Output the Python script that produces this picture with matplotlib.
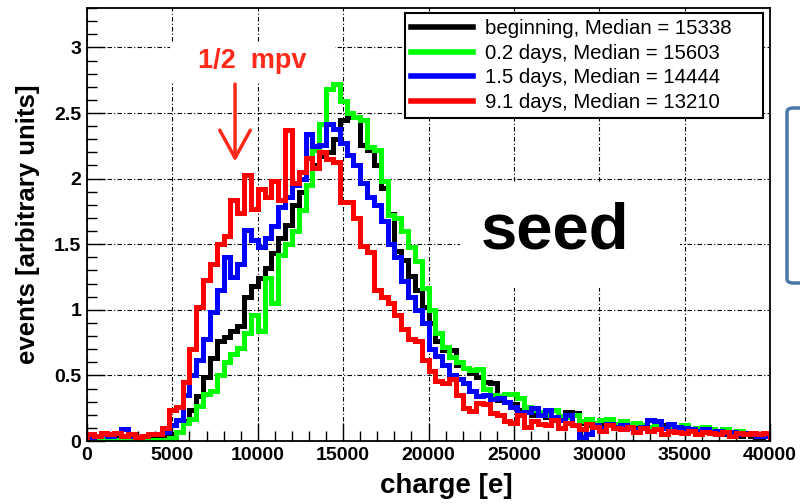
"""Seed-pixel charge spectra after different irradiation times."""

import matplotlib.pyplot as plt
import numpy as np
from matplotlib.lines import Line2D
from matplotlib.patches import FancyBboxPatch, Rectangle
from matplotlib.ticker import FuncFormatter, MultipleLocator

plt.rcParams["font.family"] = "Liberation Sans"
plt.rcParams["font.weight"] = "bold"
plt.rcParams["axes.labelweight"] = "bold"

# 100 bins of 400 e from 0 to 40000 e
edges = np.arange(0, 40001, 400)

beginning = [
    0.03, 0.04, 0.03, 0.05, 0.04, 0.03, 0.04, 0.03, 0.03, 0.04,
    0.04, 0.03, 0.05, 0.07, 0.15, 0.24, 0.34, 0.49, 0.63, 0.76,
    0.79, 0.84, 0.88, 1.10, 1.18, 1.24, 1.32, 1.43, 1.55, 1.65,
    1.80, 1.90, 1.95, 2.10, 2.17, 2.20, 2.30, 2.45, 2.47, 2.47,
    2.26, 2.22, 2.10, 1.93, 1.73, 1.45, 1.38, 1.26, 1.15, 1.02,
    0.90, 0.76, 0.69, 0.69, 0.58, 0.56, 0.52, 0.49, 0.45, 0.44,
    0.31, 0.30, 0.28, 0.24, 0.22, 0.20, 0.20, 0.18, 0.16, 0.17,
    0.22, 0.21, 0.14, 0.12, 0.13, 0.14, 0.16, 0.12, 0.11, 0.12,
    0.10, 0.11, 0.09, 0.10, 0.12, 0.10, 0.08, 0.09, 0.08, 0.07,
    0.08, 0.06, 0.07, 0.05, 0.06, 0.04, 0.05, 0.04, 0.03, 0.04,
]
days_0p2 = [
    0.02, 0.01, 0.02, 0.02, 0.01, 0.02, 0.01, 0.02, 0.01, 0.01,
    0.01, 0.01, 0.02, 0.07, 0.14, 0.17, 0.27, 0.36, 0.38, 0.50,
    0.60, 0.66, 0.71, 0.82, 0.96, 0.84, 1.24, 1.05, 1.42, 1.50,
    1.60, 1.76, 1.95, 2.22, 2.42, 2.68, 2.72, 2.59, 2.50, 2.47,
    2.45, 2.24, 2.22, 1.98, 1.72, 1.70, 1.60, 1.48, 1.37, 1.17,
    1.00, 0.82, 0.72, 0.64, 0.60, 0.56, 0.54, 0.55, 0.40, 0.35,
    0.34, 0.36, 0.36, 0.33, 0.26, 0.24, 0.22, 0.20, 0.24, 0.19,
    0.18, 0.20, 0.15, 0.17, 0.14, 0.16, 0.17, 0.13, 0.15, 0.12,
    0.14, 0.12, 0.11, 0.13, 0.10, 0.11, 0.10, 0.12, 0.09, 0.10,
    0.11, 0.09, 0.08, 0.09, 0.07, 0.08, 0.06, 0.06, 0.05, 0.05,
]
days_1p5 = [
    0.03, 0.04, 0.05, 0.04, 0.06, 0.09, 0.04, 0.03, 0.04, 0.05,
    0.05, 0.07, 0.12, 0.16, 0.35, 0.50, 0.62, 0.78, 0.98, 1.15,
    1.40, 1.25, 1.35, 1.61, 1.53, 1.48, 1.55, 1.64, 1.78, 1.86,
    1.95, 2.00, 2.34, 2.25, 2.26, 2.42, 2.38, 2.27, 2.18, 2.10,
    1.97, 1.86, 1.80, 1.68, 1.50, 1.40, 1.22, 1.10, 1.00, 0.90,
    0.70, 0.65, 0.58, 0.50, 0.47, 0.44, 0.38, 0.34, 0.35, 0.32,
    0.33, 0.30, 0.26, 0.21, 0.22, 0.25, 0.20, 0.24, 0.18, 0.16,
    0.20, 0.12, 0.03, 0.05, 0.12, 0.10, 0.13, 0.11, 0.12, 0.10,
    0.09, 0.11, 0.16, 0.15, 0.10, 0.13, 0.11, 0.10, 0.09, 0.08,
    0.09, 0.07, 0.08, 0.06, 0.07, 0.05, 0.06, 0.05, 0.04, 0.04,
]
days_9p1 = [
    0.05, 0.04, 0.06, 0.05, 0.06, 0.04, 0.05, 0.03, 0.04, 0.05,
    0.05, 0.10, 0.24, 0.26, 0.45, 0.70, 1.02, 1.23, 1.35, 1.50,
    1.56, 1.84, 1.74, 2.03, 1.77, 1.92, 1.86, 1.98, 1.84, 2.37,
    1.97, 2.05, 2.16, 2.08, 2.20, 2.15, 2.13, 1.82, 1.82, 1.70,
    1.49, 1.44, 1.15, 1.10, 1.05, 0.96, 0.85, 0.78, 0.76, 0.62,
    0.53, 0.46, 0.44, 0.47, 0.35, 0.25, 0.23, 0.29, 0.28, 0.21,
    0.20, 0.15, 0.14, 0.20, 0.11, 0.15, 0.13, 0.12, 0.16, 0.10,
    0.14, 0.12, 0.09, 0.13, 0.11, 0.08, 0.12, 0.10, 0.09, 0.11,
    0.07, 0.10, 0.08, 0.09, 0.05, 0.08, 0.07, 0.06, 0.08, 0.05,
    0.07, 0.06, 0.05, 0.07, 0.04, 0.06, 0.05, 0.06, 0.05, 0.06,
]

series = [beginning, days_0p2, days_1p5, days_9p1]
colors = ["black", "#00ff00", "#0000ff", "#ff0000"]
labels = [
    "beginning, Median = 15338",
    "0.2 days, Median = 15603",
    "1.5 days, Median = 14444",
    "9.1 days, Median = 13210",
]

mpv_half = 8670  # charge marked by the arrow [e]
red_note = "#ff2a1a"

fig = plt.figure(figsize=(8, 5.04), dpi=100)
ax = fig.add_axes([0.10875, 0.125, 0.85375, 0.859])

for vals, c in zip(series, colors):
    ax.stairs(vals, edges, color=c, linewidth=3.6, baseline=0, zorder=2)

ax.set_xlim(0, 40000)
ax.set_ylim(0, 3.3)
ax.xaxis.set_major_locator(MultipleLocator(5000))
ax.xaxis.set_minor_locator(MultipleLocator(1000))
ax.yaxis.set_major_locator(MultipleLocator(0.5))
ax.yaxis.set_minor_locator(MultipleLocator(0.1))
ax.yaxis.set_major_formatter(FuncFormatter(lambda v, p: f"{v:g}"))
ax.tick_params(which="major", direction="in", length=13, width=1, labelsize=14, pad=4)
ax.tick_params(which="minor", direction="in", length=7, width=1)
for lbl in ax.get_xticklabels() + ax.get_yticklabels():
    lbl.set_fontweight("bold")
for s in ax.spines.values():
    s.set_linewidth(1.3)

ax.set_axisbelow(True)
ax.grid(which="major", color="black", linestyle=(0, (4, 2, 1, 2)), linewidth=0.8)

ax.set_xlabel("charge [e]", fontsize=20, fontweight="bold")
ax.set_ylabel("events [arbitrary units]", fontsize=18.5, fontweight="bold")
ax.xaxis.set_label_coords(0.526, -0.074)
ax.yaxis.set_label_coords(-0.069, 0.5)

handles = [Line2D([], [], color=c, linewidth=4) for c in colors]
leg = ax.legend(
    handles, labels, loc="upper left", bbox_to_anchor=(0.466, 0.737, 0.524, 0.251),
    mode="expand", prop=dict(size=14.7, weight="normal"), fancybox=False,
    edgecolor="black", framealpha=1, handlelength=3.0, handletextpad=0.6,
    labelspacing=0.27, borderpad=0.3, borderaxespad=0,
)
leg.get_frame().set_linewidth(1.5)

# big "seed" label on a white patch
ax.add_patch(Rectangle((21850, 1.17), 12850, 0.8, facecolor="white", edgecolor="none", zorder=1))
ax.text(27400, 1.6, "seed", fontsize=47, fontweight="bold", ha="center", va="center", zorder=3)

# half-mpv marker
ax.add_patch(Rectangle((4860, 2.74), 9660, 0.3, facecolor="white", edgecolor="none", zorder=1))
ax.text(9660, 2.9, "1/2  mpv", fontsize=19.5, fontweight="bold", color=red_note,
        ha="center", va="center", zorder=3)
ax.annotate(
    "", xy=(mpv_half, 2.13), xytext=(mpv_half, 2.72),
    arrowprops=dict(arrowstyle="->,head_length=1.0,head_width=0.55", color=red_note,
                    lw=2.5, mutation_scale=20, shrinkA=0, shrinkB=0),
    zorder=3,
)

# edge of the neighbouring panel
fig.add_artist(FancyBboxPatch(
    (787 / 800, 221 / 504), 0.1, 175 / 504, boxstyle="round,pad=0,rounding_size=0.008",
    transform=fig.transFigure, fill=False, edgecolor="#4a76a8", linewidth=2.5, clip_on=False,
))

fig.savefig("out.png", dpi=100)
